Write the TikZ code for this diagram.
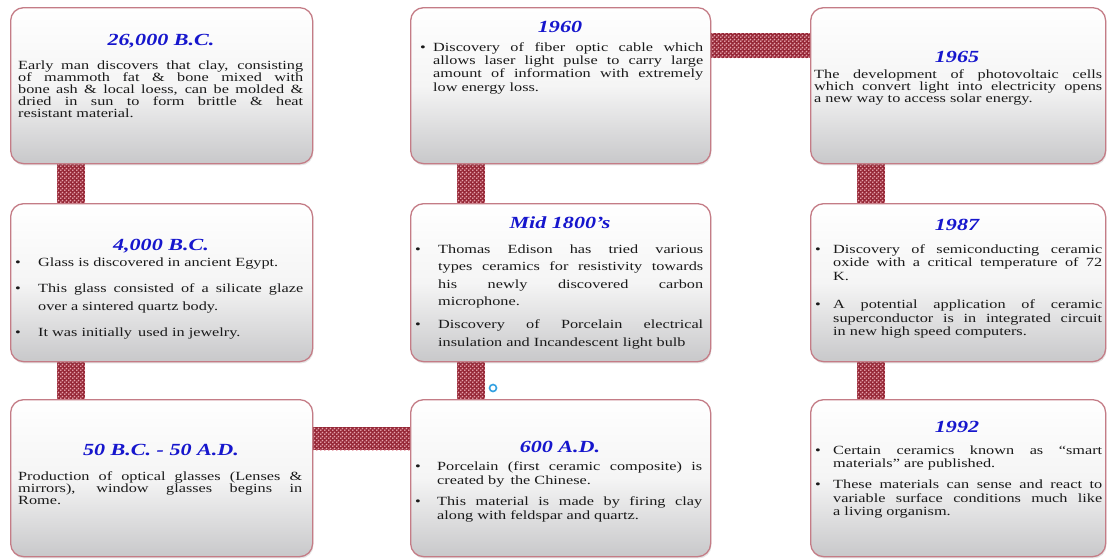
\documentclass[tikz,border=0pt]{standalone}
\usepackage{fontspec}
\setmainfont{Liberation Serif}[FakeStretch=1.3]
\usetikzlibrary{patterns,shadows,backgrounds,calc}
\definecolor{boxborder}{RGB}{196,124,134}
\definecolor{boxgray}{RGB}{200,200,202}
\definecolor{titleblue}{RGB}{22,22,205}
\definecolor{bodytext}{RGB}{25,25,25}
\definecolor{connbase}{RGB}{150,40,55}
\definecolor{conndot}{RGB}{232,165,175}
\definecolor{dotblue}{RGB}{50,160,225}
\pgfdeclarepatternformonly{conndots}{\pgfqpoint{0pt}{0pt}}{\pgfqpoint{4pt}{4pt}}{\pgfqpoint{4pt}{4pt}}{%
  \pgfpathcircle{\pgfqpoint{1pt}{1pt}}{1.1pt}%
  \pgfpathcircle{\pgfqpoint{3pt}{3pt}}{1.1pt}%
  \pgfusepath{fill}}
\newcommand\bitem[2]{\hangindent=#1\hangafter=1\noindent\hbox to #1{\textbullet\hfil}#2\par}
\newcommand\bodyset[2]{\fontsize{12.5}{#1}\selectfont\setlength{\parskip}{#2}\emergencystretch=20pt}
\begin{document}
\begin{tikzpicture}[x=1pt,y=-1pt,
 box/.style={draw=boxborder, line width=1.3pt, rounded corners=13pt, top color=white, bottom color=boxgray, middle color=white!96!black, inner sep=0pt, anchor=north west, drop shadow={opacity=0.2, shadow xshift=0.8pt, shadow yshift=-1.8pt}},
 title/.style={anchor=base, inner sep=0pt, text=titleblue, font=\fontsize{17}{20}\selectfont\bfseries\itshape},
 body/.style={anchor=base west, inner sep=0pt, align=justify, text=bodytext},
 conn/.style={fill=connbase, postaction={pattern=conndots, pattern color=conndot}},
]
\useasboundingbox (0,0) rectangle (1107,558);
\begin{scope}[on background layer]
\fill[white] (0,0) rectangle (1107,558);
\end{scope}

% boxes
\node[box, minimum width=302pt, minimum height=156pt] (b1) at (10,7) {};
\node[box, minimum width=300pt, minimum height=156pt] (b2) at (410,7) {};
\node[box, minimum width=295pt, minimum height=156pt] (b3) at (810,7) {};
\node[box, minimum width=302pt, minimum height=158pt] (b4) at (10,203) {};
\node[box, minimum width=300pt, minimum height=158pt] (b5) at (410,203) {};
\node[box, minimum width=295pt, minimum height=158pt] (b6) at (810,203) {};
\node[box, minimum width=302pt, minimum height=157pt] (b7) at (10,399) {};
\node[box, minimum width=300pt, minimum height=157pt] (b8) at (410,399) {};
\node[box, minimum width=295pt, minimum height=157pt] (b9) at (810,399) {};

% connectors
\begin{scope}[on background layer]
\fill[conn] ([xshift=47pt]b1.south west) rectangle ([xshift=75pt]b4.north west);
\fill[conn] ([xshift=47pt]b4.south west) rectangle ([xshift=75pt]b7.north west);
\fill[conn] ([xshift=47pt]b2.south west) rectangle ([xshift=75pt]b5.north west);
\fill[conn] ([xshift=47pt]b5.south west) rectangle ([xshift=75pt]b8.north west);
\fill[conn] ([xshift=47pt]b3.south west) rectangle ([xshift=75pt]b6.north west);
\fill[conn] ([xshift=47pt]b6.south west) rectangle ([xshift=75pt]b9.north west);
\fill[conn] ([yshift=-26pt]b2.north east) rectangle ([yshift=-51pt]b3.north west);
\fill[conn] ([yshift=-28pt]b7.north east) rectangle ([yshift=-51pt]b8.north west);
\end{scope}
\node[circle, draw=dotblue, line width=1.6pt, minimum size=7pt, inner sep=0pt] (dot) at (493,388) {};

% titles
\node[title] (h1) at (161,45) {26,000 B.C.};
\node[title] (h2) at (560,32) {1960};
\node[title] (h3) at (957,62) {1965};
\node[title] (h4) at (161,250) {4,000 B.C.};
\node[title] (h5) at (560,228) {Mid 1800’s};
\node[title] (h6) at (957,230) {1987};
\node[title] (h7) at (161,455) {50 B.C. - 50 A.D.};
\node[title] (h8) at (560,452) {600 A.D.};
\node[title] (h9) at (957,432) {1992};

% bodies
\node[body, text width=285pt] (t1) at (18,69) {\bodyset{14.3pt}{0pt}Early man discovers that clay, consisting\linebreak of mammoth fat \& bone mixed with\linebreak bone ash \& local loess, can be molded \&\linebreak dried in sun to form brittle \& heat\linebreak resistant material.};
\node[body, text width=283pt] (t2) at (420,51) {\bodyset{13.4pt}{0pt}\bitem{13pt}{Discovery of fiber optic cable which\linebreak allows laser light pulse to carry large\linebreak amount of information with extremely\linebreak low energy loss.}};
\node[body, text width=288pt] (t3) at (814,78) {\bodyset{13.5pt}{0pt}The development of photovoltaic cells\linebreak which convert light into electricity opens\linebreak a new way to access solar energy.};
\node[body, text width=288pt] (t4) at (15,266) {\bodyset{18pt}{8pt}\bitem{23pt}{Glass is discovered in ancient Egypt.}\bitem{23pt}{This glass consisted of a silicate glaze\linebreak over a sintered quartz body.}\bitem{23pt}{It was initially\, used in jewelry.}};
\node[body, text width=288pt] (t5) at (415,253) {\bodyset{17.5pt}{5.5pt}\bitem{23pt}{Thomas Edison has tried various\linebreak types ceramics for resistivity towards\linebreak his newly discovered carbon\linebreak microphone.}\bitem{23pt}{Discovery of Porcelain electrical\linebreak insulation and Incandescent light bulb}};
\node[body, text width=287pt] (t6) at (815,253) {\bodyset{13.7pt}{14.3pt}\bitem{18pt}{Discovery of semiconducting ceramic\linebreak oxide with a critical temperature of 72\linebreak K.}\bitem{18pt}{A potential application of ceramic\linebreak superconductor is in integrated circuit\linebreak in new high speed computers.}};
\node[body, text width=284pt] (t7) at (18,480) {\bodyset{13.5pt}{0pt}Production of optical glasses (Lenses \&\linebreak mirrors), window glasses begins in\linebreak Rome.};
\node[body, text width=287pt] (t8) at (415,470) {\bodyset{14pt}{7pt}\bitem{22pt}{Porcelain (first ceramic composite) is\linebreak created by\, the Chinese.}\bitem{22pt}{This material is made by firing clay\linebreak along with feldspar and quartz.}};
\node[body, text width=287pt] (t9) at (815,454) {\bodyset{13.5pt}{7.5pt}\bitem{18pt}{Certain ceramics known as “smart\linebreak materials” are published.}\bitem{18pt}{These materials can sense and react to\linebreak variable surface conditions much like\linebreak a living organism.}};
\end{tikzpicture}
\end{document}
